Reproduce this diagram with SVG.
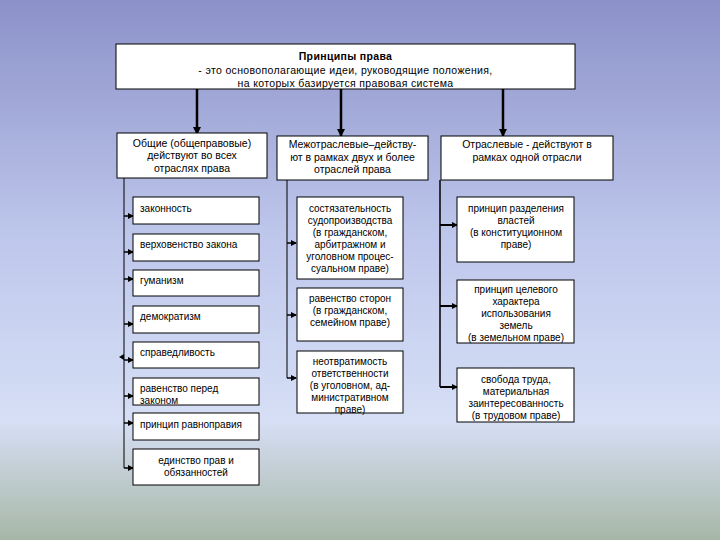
<svg xmlns="http://www.w3.org/2000/svg" width="720" height="540" viewBox="0 0 720 540">
<defs>
<linearGradient id="bg" x1="0" y1="0" x2="0" y2="1">
<stop offset="0" stop-color="#8c92c9"/>
<stop offset="0.45" stop-color="#bfc8ec"/>
<stop offset="0.78" stop-color="#d6dff5"/>
<stop offset="1" stop-color="#a7b7a6"/>
</linearGradient>
<marker id="ah" markerWidth="6" markerHeight="6" refX="5" refY="3" orient="auto" markerUnits="userSpaceOnUse">
<path d="M0,0 L6,3 L0,6 Z" fill="#000"/>
</marker>
<marker id="ahb" markerWidth="8" markerHeight="8" refX="7" refY="4" orient="auto" markerUnits="userSpaceOnUse">
<path d="M0,0 L8,4 L0,8 Z" fill="#000"/>
</marker>
</defs>
<style>
.box{fill:#fff;stroke:#000;stroke-width:1}
.t{font-family:"Liberation Sans",Arial,sans-serif;font-size:10px;fill:#000}
.h{font-size:10.5px}
.top{font-size:10.5px;letter-spacing:0.35px}
.c{text-anchor:middle}
.b{font-weight:bold}
.ln{fill:none;stroke:#000;stroke-width:1}
.arr{fill:none;stroke:#000;stroke-width:1.5;marker-end:url(#ah)}
.big{fill:none;stroke:#000;stroke-width:2.5;marker-end:url(#ahb)}
</style>
<rect width="720" height="540" fill="url(#bg)"/>

<g id="connectors">
<line class="big" x1="197" y1="89" x2="197" y2="134"/>
<line class="big" x1="341" y1="89" x2="341" y2="136"/>
<line class="big" x1="503" y1="89" x2="503" y2="136"/>
<polyline class="ln" points="134,170 124,170 124,468"/>
<line class="arr" x1="124" y1="216" x2="133" y2="216"/>
<line class="arr" x1="124" y1="252" x2="133" y2="252"/>
<line class="arr" x1="124" y1="279" x2="133" y2="279"/>
<line class="arr" x1="124" y1="324" x2="133" y2="324"/>
<line class="arr" x1="124" y1="360" x2="133" y2="360"/>
<path d="M124,354 L119,357 L124,360 Z" fill="#000"/>
<line class="arr" x1="124" y1="396" x2="133" y2="396"/>
<line class="arr" x1="124" y1="423" x2="133" y2="423"/>
<line class="arr" x1="124" y1="468" x2="133" y2="468"/>
<line class="ln" x1="287" y1="180" x2="287" y2="378"/>
<line class="arr" x1="287" y1="243" x2="296" y2="243"/>
<line class="arr" x1="287" y1="315" x2="296" y2="315"/>
<line class="arr" x1="287" y1="378" x2="296" y2="378"/>
<line class="ln" x1="440" y1="180" x2="440" y2="387" style="stroke-width:1.5"/>
<line class="arr" x1="440" y1="225" x2="457" y2="225" style="stroke-width:2"/>
<line class="arr" x1="440" y1="306" x2="457" y2="306" style="stroke-width:2"/>
<line class="arr" x1="440" y1="387" x2="457" y2="387" style="stroke-width:2"/>
</g>

<g id="root">
<rect class="box" x="116" y="44" width="459" height="45"/>
<text class="t top c b" x="345.5" y="60">Принципы права</text>
<text class="t top c" x="345.5" y="73.5">- это основополагающие идеи, руководящие положения,</text>
<text class="t top c" x="345.5" y="87">на которых базируется правовая система</text>
</g>

<g id="general">
<rect class="box" x="117" y="133" width="150" height="45"/>
<text class="t h c" x="192" y="146.5">Общие (общеправовые)</text>
<text class="t h c" x="192" y="159">действуют во всех</text>
<text class="t h c" x="192" y="171.5">отраслях права</text>
</g>
<g id="inter">
<rect class="box" x="277" y="136" width="151" height="44"/>
<text class="t h c" x="352.5" y="148">Межотраслевые–действу-</text>
<text class="t h c" x="352.5" y="160.5">ют в рамках двух и более</text>
<text class="t h c" x="352.5" y="172.5">отраслей права</text>
</g>
<g id="branch">
<rect class="box" x="441" y="136" width="172" height="44"/>
<text class="t h c" x="527" y="148">Отраслевые - действуют в</text>
<text class="t h c" x="527" y="160.5">рамках одной отрасли</text>
</g>

<g id="g1"><rect class="box" x="133" y="197" width="126" height="27"/><text class="t" x="140" y="211.5">законность</text></g>
<g id="g2"><rect class="box" x="133" y="234" width="126" height="27"/><text class="t" x="140" y="247.5">верховенство закона</text></g>
<g id="g3"><rect class="box" x="133" y="270" width="126" height="26"/><text class="t" x="140" y="283.5">гуманизм</text></g>
<g id="g4"><rect class="box" x="133" y="306" width="126" height="27"/><text class="t" x="140" y="319.5">демократизм</text></g>
<g id="g5"><rect class="box" x="133" y="342" width="126" height="26"/><text class="t" x="140" y="355.5">справедливость</text></g>
<g id="g6"><rect class="box" x="133" y="378" width="126" height="27"/><text class="t" x="140" y="391.5">равенство перед</text><text class="t" x="140" y="403.5">законом</text></g>
<g id="g7"><rect class="box" x="133" y="413" width="126" height="27"/><text class="t" x="140" y="427.5">принцип равноправия</text></g>
<g id="g8"><rect class="box" x="133" y="449" width="126" height="36"/><text class="t c" x="196" y="463.5">единство прав и</text><text class="t c" x="196" y="475.5">обязанностей</text></g>

<g id="m1"><rect class="box" x="297" y="197" width="106" height="82"/>
<text class="t c" x="350" y="211.5">состязательность</text>
<text class="t c" x="350" y="223.5">судопроизводства</text>
<text class="t c" x="350" y="235.5">(в гражданском,</text>
<text class="t c" x="350" y="247.5">арбитражном и</text>
<text class="t c" x="350" y="259.5">уголовном процес-</text>
<text class="t c" x="350" y="271.5">суальном праве)</text></g>
<g id="m2"><rect class="box" x="297" y="288" width="106" height="53"/>
<text class="t c" x="350" y="301.5">равенство сторон</text>
<text class="t c" x="350" y="313.5">(в гражданском,</text>
<text class="t c" x="350" y="325.5">семейном праве)</text></g>
<g id="m3"><rect class="box" x="297" y="351" width="106" height="62"/>
<text class="t c" x="350" y="364.5">неотвратимость</text>
<text class="t c" x="350" y="376.5">ответственности</text>
<text class="t c" x="350" y="388.5">(в уголовном, ад-</text>
<text class="t c" x="350" y="400.5">министративном</text>
<text class="t c" x="350" y="412.5">праве)</text></g>

<g id="r1"><rect class="box" x="457" y="197" width="117" height="65"/>
<text class="t c" x="516" y="211.5">принцип разделения</text>
<text class="t c" x="516" y="223.5">властей</text>
<text class="t c" x="516" y="235.5">(в конституционном</text>
<text class="t c" x="516" y="247.5">праве)</text></g>
<g id="r2"><rect class="box" x="457" y="280" width="117" height="63"/>
<text class="t c" x="516" y="292.5">принцип целевого</text>
<text class="t c" x="516" y="304.5">характера</text>
<text class="t c" x="516" y="316.5">использования</text>
<text class="t c" x="516" y="328.5">земель</text>
<text class="t c" x="516" y="340.5">(в земельном праве)</text></g>
<g id="r3"><rect class="box" x="457" y="368" width="117" height="54"/>
<text class="t c" x="516" y="382.5">свобода труда,</text>
<text class="t c" x="516" y="394.5">материальная</text>
<text class="t c" x="516" y="406.5">заинтересованность</text>
<text class="t c" x="516" y="418.5">(в трудовом праве)</text></g>
</svg>
